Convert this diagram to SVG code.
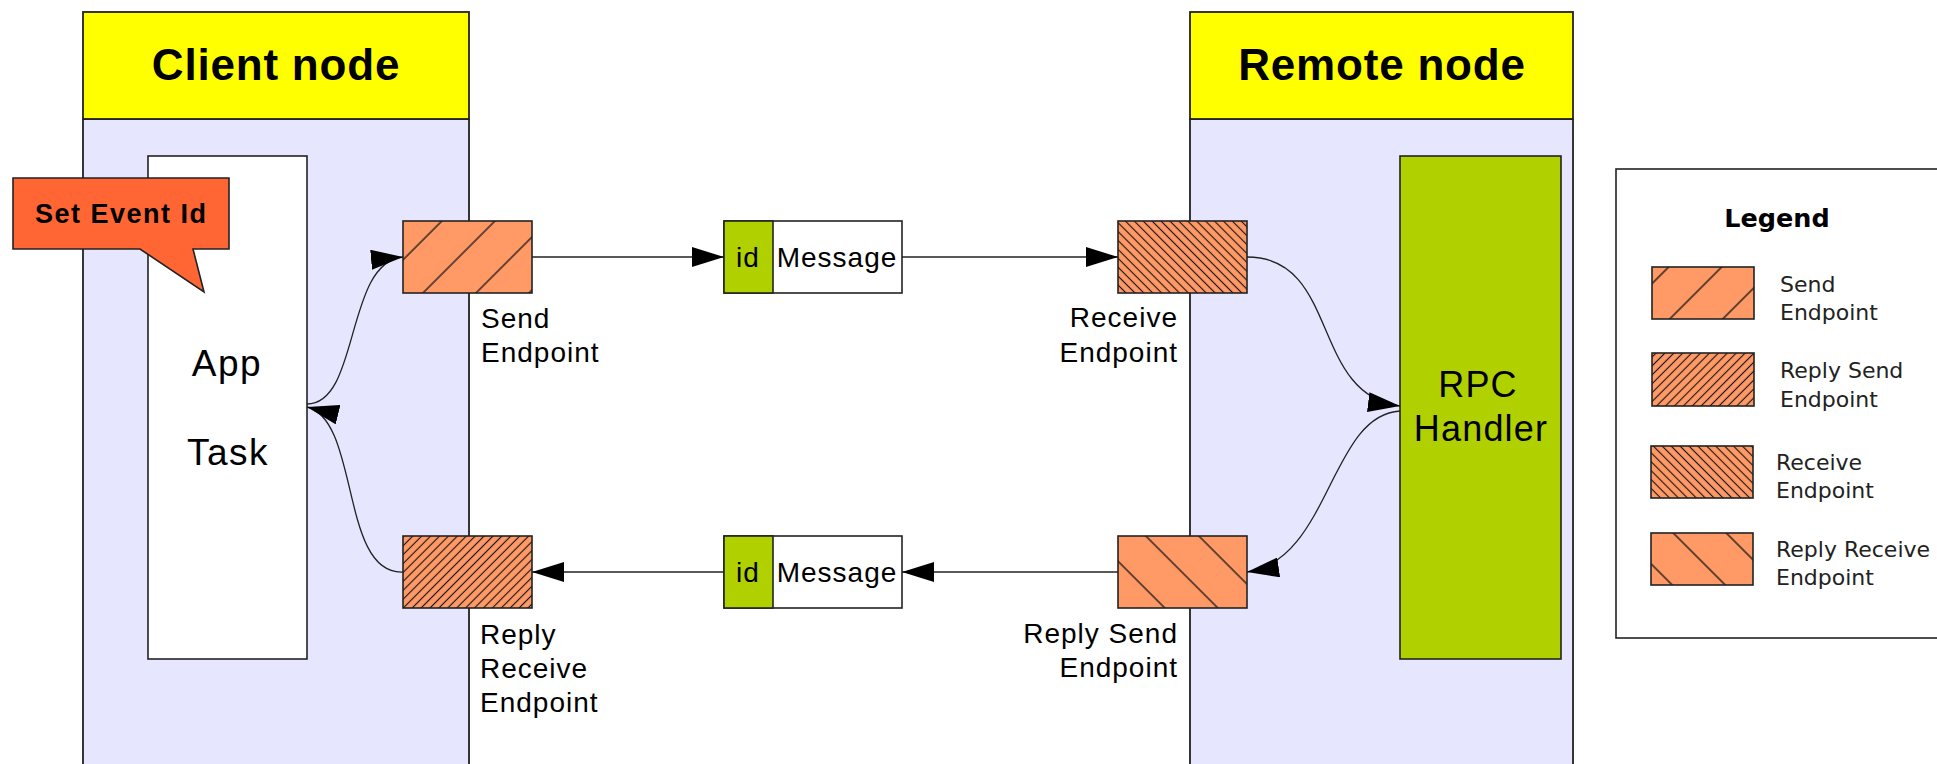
<svg xmlns="http://www.w3.org/2000/svg" width="1937" height="764" viewBox="0 0 1937 764">
  <style>
    .lane-head { fill: #ffff00; stroke: #222; stroke-width: 1.8; }
    .lane-body { fill: #e6e6ff; stroke: #222; stroke-width: 1.8; }
    .box { stroke: #222; stroke-width: 1.6; }
    .title { font-family: "Liberation Sans", Arial, sans-serif; font-weight: bold; font-size: 44px; letter-spacing: 0.8px; fill: #000; text-anchor: middle; }
    .label { font-family: "Liberation Sans", Arial, sans-serif; font-size: 28px; letter-spacing: 1px; fill: #000; }
    .big { font-family: "Liberation Sans", Arial, sans-serif; font-size: 37px; letter-spacing: 1.5px; fill: #000; text-anchor: middle; }
    .callout-text { font-family: "Liberation Sans", Arial, sans-serif; font-weight: bold; font-size: 27px; letter-spacing: 1.5px; fill: #000; }
    .legend-title { font-family: "DejaVu Sans", sans-serif; font-weight: bold; font-size: 25.5px; fill: #000; text-anchor: middle; }
    .legend-text { font-family: "DejaVu Sans", sans-serif; font-size: 22px; fill: #222; }
    .conn { fill: none; stroke: #222; stroke-width: 1.5; marker-end: url(#arrow); }
    .curve { fill: none; stroke: #222; stroke-width: 1.3; marker-end: url(#arrow); }
    .green { fill: #b0d000; }
  </style>
  <defs>
    <marker id="arrow" markerUnits="userSpaceOnUse" markerWidth="32" markerHeight="20" refX="32" refY="10" orient="auto" viewBox="0 0 32 20">
      <path d="M0,0 L32,10 L0,20 Z" fill="#000"/>
    </marker>
    <!-- "/" hatching, wide spacing -->
    <pattern id="fwdSparse" patternUnits="userSpaceOnUse" width="37.5" height="10" patternTransform="rotate(45)">
      <rect width="37.5" height="10" fill="#ff9966"/>
      <line x1="18.75" y1="0" x2="18.75" y2="10" stroke="#111" stroke-width="1.3"/>
    </pattern>
    <!-- "/" hatching, dense -->
    <pattern id="fwdDense" patternUnits="userSpaceOnUse" width="6.3" height="10" patternTransform="rotate(45)">
      <rect width="6.3" height="10" fill="#ff9966"/>
      <line x1="3.15" y1="0" x2="3.15" y2="10" stroke="#111" stroke-width="1.1"/>
    </pattern>
    <!-- "\" hatching, dense -->
    <pattern id="backDense" patternUnits="userSpaceOnUse" width="6.3" height="10" patternTransform="rotate(-45)">
      <rect width="6.3" height="10" fill="#ff9966"/>
      <line x1="3.15" y1="0" x2="3.15" y2="10" stroke="#111" stroke-width="1.1"/>
    </pattern>
    <!-- "\" hatching, wide spacing -->
    <pattern id="backSparse" patternUnits="userSpaceOnUse" width="37.5" height="10" patternTransform="rotate(-45)">
      <rect width="37.5" height="10" fill="#ff9966"/>
      <line x1="18.75" y1="0" x2="18.75" y2="10" stroke="#111" stroke-width="1.3"/>
    </pattern>
  </defs>

  <rect width="1937" height="764" fill="#fff"/>

  <!-- swimlanes -->
  <g id="client-node">
    <rect class="lane-body" x="83" y="119" width="386" height="670"/>
    <rect class="lane-head" x="83" y="12" width="386" height="107"/>
    <text class="title" x="276" y="80">Client node</text>
  </g>
  <g id="remote-node">
    <rect class="lane-body" x="1190" y="119" width="383" height="670"/>
    <rect class="lane-head" x="1190" y="12" width="383" height="107"/>
    <text class="title" x="1382" y="80">Remote node</text>
  </g>

  <g id="app-task">
    <rect class="box" x="148" y="156" width="159" height="503" fill="#fff"/>
    <text class="big" x="227" y="376">App</text>
    <text class="big" x="228" y="465">Task</text>
  </g>

  <g id="rpc-handler">
    <rect class="box green" x="1400" y="156" width="161" height="503"/>
    <text class="big" x="1478" y="397" style="font-size:36px;letter-spacing:1.2px">RPC</text>
    <text class="big" x="1481" y="441" style="font-size:36px;letter-spacing:1.2px">Handler</text>
  </g>

  <!-- endpoints -->
  <g id="send-endpoint">
    <rect class="box" x="403" y="221" width="129" height="72" fill="url(#fwdSparse)"/>
    <text class="label" x="481" y="328">Send</text>
    <text class="label" x="481" y="362">Endpoint</text>
  </g>
  <g id="reply-receive-endpoint">
    <rect class="box" x="403" y="536" width="129" height="72" fill="url(#fwdDense)"/>
    <text class="label" x="480" y="644">Reply</text>
    <text class="label" x="480" y="678">Receive</text>
    <text class="label" x="480" y="712">Endpoint</text>
  </g>
  <g id="receive-endpoint">
    <rect class="box" x="1118" y="221" width="129" height="72" fill="url(#backDense)"/>
    <text class="label" x="1178" y="327" text-anchor="end">Receive</text>
    <text class="label" x="1178" y="362" text-anchor="end">Endpoint</text>
  </g>
  <g id="reply-send-endpoint">
    <rect class="box" x="1118" y="536" width="129" height="72" fill="url(#backSparse)"/>
    <text class="label" x="1178" y="643" text-anchor="end">Reply Send</text>
    <text class="label" x="1178" y="677" text-anchor="end">Endpoint</text>
  </g>

  <!-- messages -->
  <g id="message-request">
    <rect class="box" x="724" y="221" width="178" height="72" fill="#fff"/>
    <rect class="box green" x="724" y="221" width="49" height="72"/>
    <text class="label" x="748" y="267" text-anchor="middle">id</text>
    <text class="label" x="837" y="267" text-anchor="middle">Message</text>
  </g>
  <g id="message-reply">
    <rect class="box" x="724" y="536" width="178" height="72" fill="#fff"/>
    <rect class="box green" x="724" y="536" width="49" height="72"/>
    <text class="label" x="748" y="582" text-anchor="middle">id</text>
    <text class="label" x="837" y="582" text-anchor="middle">Message</text>
  </g>

  <!-- connectors -->
  <g id="connectors">
    <path class="conn" d="M532,257 H724"/>
    <path class="conn" d="M902,257 H1118"/>
    <path class="curve" d="M1247,257 C1340,257 1310,395 1400,406"/>
    <path class="curve" d="M1400,411 C1330,415 1330,560 1247,572"/>
    <path class="conn" d="M1118,572 H902"/>
    <path class="conn" d="M724,572 H532"/>
    <path class="curve" d="M403,572 C340,575 360,420 307,407"/>
    <path class="curve" d="M307,404 C360,404 345,262 403,257"/>
  </g>

  <g id="set-event-id">
    <path d="M13,178 H229 V249 H193 L204,292 L140,249 H13 Z" fill="#ff6633" stroke="#222" stroke-width="1.6"/>
    <text class="callout-text" x="35" y="223">Set Event Id</text>
  </g>

  <!-- legend -->
  <g id="legend">
    <rect x="1616" y="169" width="340" height="469" fill="#fff" stroke="#222" stroke-width="1.6"/>
    <text class="legend-title" x="1777" y="227">Legend</text>
    <rect class="box" x="1652" y="267" width="102" height="52" fill="url(#fwdSparse)"/>
    <text class="legend-text" x="1780" y="292">Send</text>
    <text class="legend-text" x="1780" y="320">Endpoint</text>
    <rect class="box" x="1652" y="353" width="102" height="53" fill="url(#fwdDense)"/>
    <text class="legend-text" x="1780" y="378">Reply Send</text>
    <text class="legend-text" x="1780" y="407">Endpoint</text>
    <rect class="box" x="1651" y="446" width="102" height="52" fill="url(#backDense)"/>
    <text class="legend-text" x="1776" y="470">Receive</text>
    <text class="legend-text" x="1776" y="498">Endpoint</text>
    <rect class="box" x="1651" y="533" width="102" height="52" fill="url(#backSparse)"/>
    <text class="legend-text" x="1776" y="557">Reply Receive</text>
    <text class="legend-text" x="1776" y="585">Endpoint</text>
  </g>
</svg>
